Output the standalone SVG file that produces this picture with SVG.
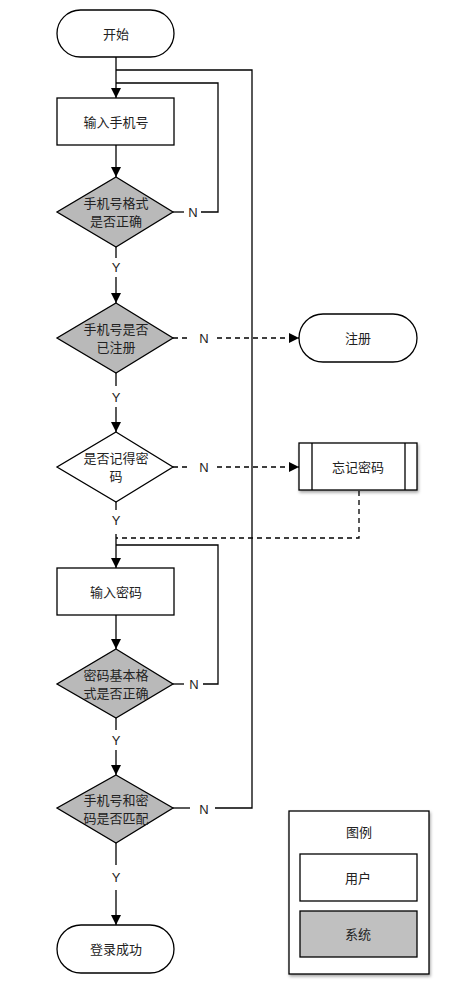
<svg xmlns="http://www.w3.org/2000/svg" width="475" height="1000" viewBox="0 0 475 1000">
<style>
.s{stroke:#000;stroke-width:1.3}
.w{fill:#fff}
.g{fill:#b9b9b9}
.l{fill:none;stroke:#000;stroke-width:1.3}
.d{fill:none;stroke:#000;stroke-width:1.3;stroke-dasharray:5 4}
text{font-family:"Liberation Sans","Noto Sans CJK SC",sans-serif;font-size:13px;fill:#222;text-anchor:middle;dominant-baseline:central}
</style>
<defs>
<marker id="a" viewBox="0 0 10 10" refX="10" refY="5" markerWidth="10" markerHeight="10" markerUnits="userSpaceOnUse" orient="auto"><path d="M0,0L10,5L0,10z" fill="#000"/></marker>
<filter id="sh" x="-10%" y="-10%" width="130%" height="130%"><feDropShadow dx="1" dy="2" stdDeviation="1.5" flood-color="#000" flood-opacity="0.35"/></filter>
</defs>
<rect width="475" height="1000" fill="#fff"/>
<g id="connectors">
<path class="l" d="M116,57V98" marker-end="url(#a)"/>
<path class="l" d="M116,70H252V808H215"/>
<path class="l" d="M116,83H218V212H201"/>
<path class="l" d="M116,145V177" marker-end="url(#a)"/>
<path class="l" d="M173,212H184"/>
<path class="l" d="M116,247V258"/>
<path class="l" d="M116,277V303" marker-end="url(#a)"/>
<path class="d" d="M173,338H190"/>
<path class="d" d="M217,338H299" marker-end="url(#a)"/>
<path class="l" d="M116,373V386"/>
<path class="l" d="M116,407V432" marker-end="url(#a)"/>
<path class="d" d="M173,467H190"/>
<path class="d" d="M217,467H299" marker-end="url(#a)"/>
<path class="l" d="M116,502V510"/>
<path class="d" d="M359,491V538H116"/>
<path class="l" d="M116,534V568" marker-end="url(#a)"/>
<path class="l" d="M116,545H218V684H203"/>
<path class="l" d="M116,615V649" marker-end="url(#a)"/>
<path class="l" d="M173,684H184"/>
<path class="l" d="M116,718V730"/>
<path class="l" d="M116,750V775" marker-end="url(#a)"/>
<path class="l" d="M173,808H190"/>
<path class="l" d="M116,843V865"/>
<path class="l" d="M116,890V925" marker-end="url(#a)"/>
<text x="193" y="212">N</text>
<text x="116" y="267">Y</text>
<text x="204" y="338">N</text>
<text x="116" y="397">Y</text>
<text x="204" y="467">N</text>
<text x="116" y="520">Y</text>
<text x="194" y="684">N</text>
<text x="116" y="740">Y</text>
<text x="204" y="809">N</text>
<text x="116" y="877">Y</text>
</g>
<g id="start"><rect class="s w" x="57" y="10" width="117" height="47" rx="23.5"/><text x="116" y="34">开始</text></g>
<g id="input-phone"><rect class="s w" x="57" y="98" width="117" height="47"/><text x="116" y="122">输入手机号</text></g>
<g id="phone-format"><path class="s g" d="M116,177L173,212L116,247L57,212Z"/><text x="116" y="203">手机号格式</text><text x="116" y="221">是否正确</text></g>
<g id="phone-registered"><path class="s g" d="M116,303L173,338L116,373L57,338Z"/><text x="116" y="329">手机号是否</text><text x="116" y="347">已注册</text></g>
<g id="register"><rect class="s w" x="299" y="314" width="118" height="48" rx="24"/><text x="358" y="338">注册</text></g>
<g id="remember-pwd"><path class="s w" d="M116,432L173,467L116,502L57,467Z"/><text x="116" y="458">是否记得密</text><text x="116" y="476">码</text></g>
<g id="forgot-pwd"><rect class="s w" x="299" y="443" width="118" height="47" filter="url(#sh)"/><path class="l" d="M312,443V490M405,443V490"/><text x="358" y="467">忘记密码</text></g>
<g id="input-pwd"><rect class="s w" x="57" y="568" width="117" height="47"/><text x="116" y="592">输入密码</text></g>
<g id="pwd-format"><path class="s g" d="M116,649L173,684L116,718L57,684Z"/><text x="116" y="675">密码基本格</text><text x="116" y="693">式是否正确</text></g>
<g id="match"><path class="s g" d="M116,775L173,808L116,843L57,808Z"/><text x="116" y="800">手机号和密</text><text x="116" y="818">码是否匹配</text></g>
<g id="success"><rect class="s w" x="57" y="925" width="117" height="48" rx="24"/><text x="116" y="949">登录成功</text></g>
<g id="legend"><rect class="s w" x="289" y="811" width="140" height="163" filter="url(#sh)"/><text x="359" y="832">图例</text>
<rect class="s w" x="300" y="854" width="117" height="47"/><text x="358" y="878">用户</text>
<rect class="s" fill="#c0c0c0" x="300" y="911" width="117" height="46"/><text x="358" y="934">系统</text></g>
</svg>
